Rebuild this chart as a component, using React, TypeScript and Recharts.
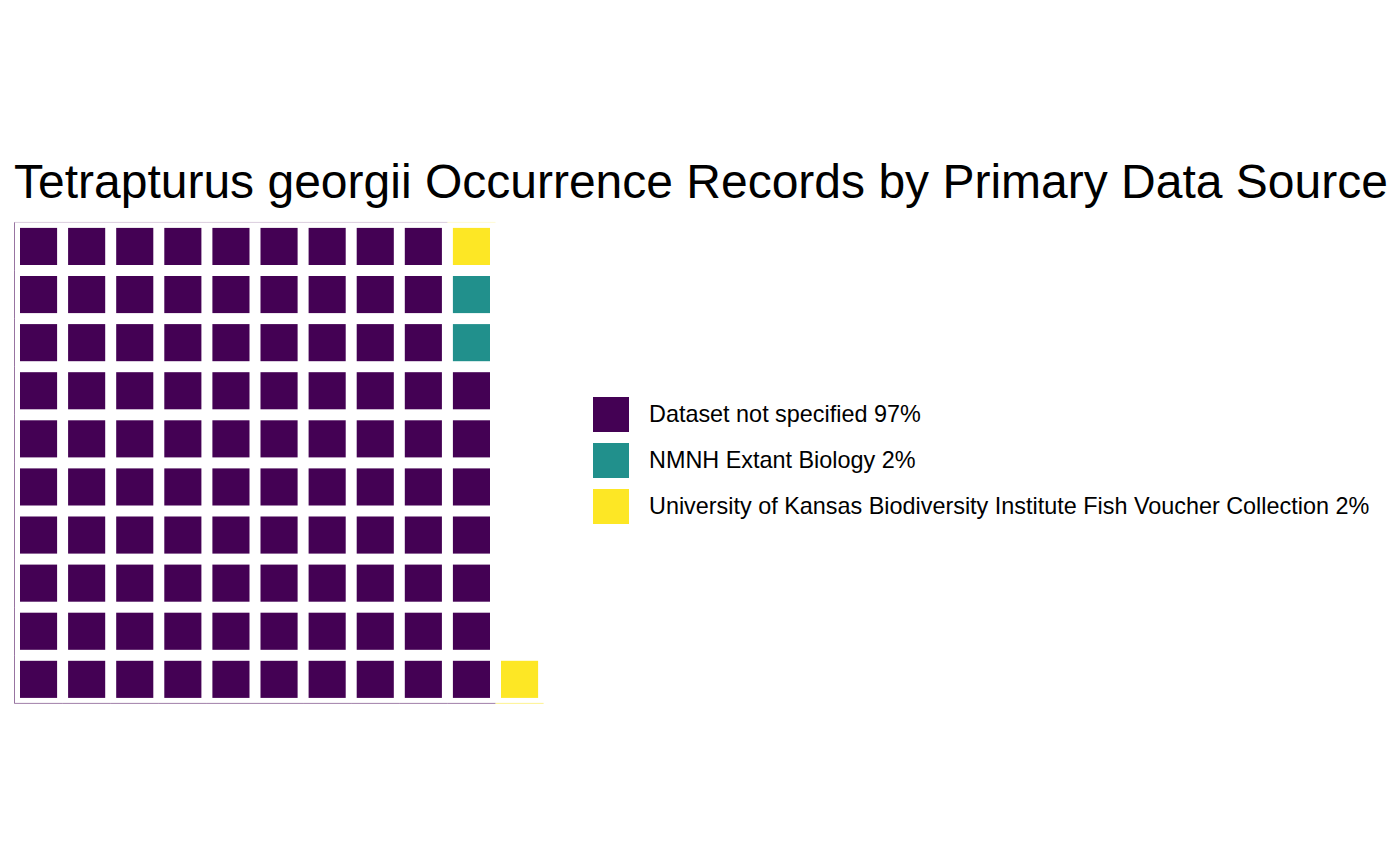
import { ScatterChart, Scatter, XAxis, YAxis } from "recharts";

const CATEGORIES = [
  "Dataset not specified",
  "NMNH Extant Biology",
  "University of Kansas Biodiversity Institute Fish Voucher Collection",
];
const COUNTS = [97, 2, 2];
const PERCENTS = ["97%", "2%", "2%"];
const COLORS = ["#440154", "#21908C", "#FDE725"];
const ROWS = 10;
const COLS = 11;

const TITLE = "Tetrapturus georgii Occurrence Records by Primary Data Source";

// waffle cells: filled column by column, bottom to top
const cells: { x: number; y: number; k: number }[] = [];
{
  let i = 0;
  COUNTS.forEach((n, k) => {
    for (let j = 0; j < n; j++) {
      cells.push({ x: Math.floor(i / ROWS) + 1, y: (i % ROWS) + 1, k });
      i++;
    }
  });
}

const W = 1400;
const H = 865;
const LEFT = 14.5;
const TOP = 222.4;
const PLOT_W = 529.1;
const PLOT_H = 481;
const PITCH = PLOT_W / COLS;
const INSET = 5.5;
const FONT = "'Liberation Sans', Arial, sans-serif";

function Tile(props: any) {
  const { cx, cy, payload } = props;
  const c = COLORS[payload.k];
  const h = PITCH / 2;
  const s = PITCH - INSET * 2;
  return (
    <g>
      <rect x={cx - h + INSET} y={cy - h + INSET} width={s} height={s} fill={c} />
      {payload.x === 1 && (
        <line x1={cx - h} x2={cx - h} y1={cy - h} y2={cy + h} stroke={c} strokeOpacity={0.55} strokeWidth={1} />
      )}
      {payload.y === ROWS && (
        <line x1={cx - h} x2={cx + h} y1={cy - h} y2={cy - h} stroke={c} strokeOpacity={0.2} strokeWidth={1} />
      )}
      {payload.y === 1 && (
        <line x1={cx - h} x2={cx + h} y1={cy + h} y2={cy + h} stroke={c} strokeOpacity={0.5} strokeWidth={1} />
      )}
    </g>
  );
}

function LegendBox() {
  return (
    <div style={{ position: "absolute", left: 593, top: 397, fontFamily: FONT, fontSize: 23.4, color: "#000" }}>
      {CATEGORIES.map((name, k) => (
        <div key={name} style={{ display: "flex", alignItems: "center", height: 35, marginBottom: 11 }}>
          <div style={{ width: 36, height: 35, background: COLORS[k], flex: "none" }} />
          <span style={{ marginLeft: 20, lineHeight: "35px", whiteSpace: "nowrap" }}>
            {name} {PERCENTS[k]}
          </span>
        </div>
      ))}
    </div>
  );
}

export default function App() {
  return (
    <div style={{ position: "absolute", left: 0, top: 0, width: W, height: H, background: "#fff" }}>
      <div
        style={{
          position: "absolute",
          left: 14,
          top: 158,
          fontFamily: FONT,
          fontSize: 48,
          lineHeight: "48px",
          whiteSpace: "nowrap",
          color: "#000",
        }}
      >
        {TITLE}
      </div>
      <ScatterChart
        width={W}
        height={H}
        margin={{ left: LEFT, top: TOP, right: W - LEFT - PLOT_W, bottom: H - TOP - PLOT_H }}
      >
        <XAxis type="number" dataKey="x" domain={[0.5, COLS + 0.5]} hide />
        <YAxis type="number" dataKey="y" domain={[0.5, ROWS + 0.5]} hide />
        <Scatter data={cells} shape={<Tile />} isAnimationActive={false} />
      </ScatterChart>
      <LegendBox />
    </div>
  );
}
